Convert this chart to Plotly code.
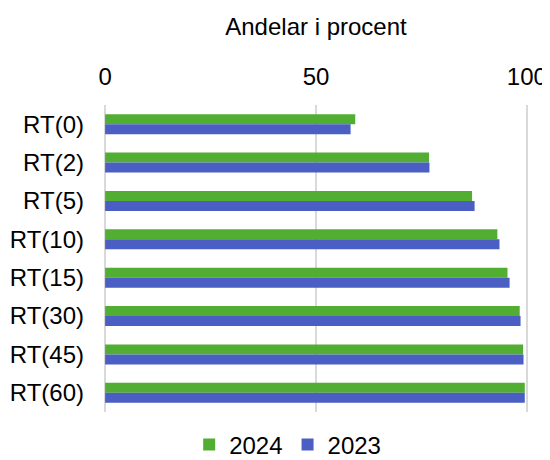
import plotly.graph_objects as go

categories = ["RT(0)", "RT(2)", "RT(5)", "RT(10)", "RT(15)", "RT(30)", "RT(45)", "RT(60)"]
values_2024 = [59.3, 76.8, 87.0, 93.0, 95.4, 98.3, 99.1, 99.5]
values_2023 = [58.2, 76.9, 87.6, 93.5, 95.9, 98.5, 99.2, 99.5]

GREEN = "#52AE32"
BLUE = "#4A5EC3"

fig = go.Figure()
fig.add_trace(go.Bar(name="2024", y=categories, x=values_2024, orientation="h",
                     marker=dict(color=GREEN, line=dict(width=0))))
fig.add_trace(go.Bar(name="2023", y=categories, x=values_2023, orientation="h",
                     marker=dict(color=BLUE, line=dict(width=0))))

fig.update_layout(
    width=550, height=460,
    barmode="group", bargap=0.48, bargroupgap=0,
    plot_bgcolor="white", paper_bgcolor="white",
    font=dict(family="Liberation Sans, Arial, sans-serif", size=24, color="#000000"),
    margin=dict(l=95, r=29, t=97, b=56, autoexpand=False),
    xaxis=dict(side="top", range=[-0.5, 100.5], tickvals=[0, 50, 100], showgrid=True,
               gridcolor="#D9D9D9", gridwidth=2, zeroline=False, showline=False,
               ticks="", ticklabelstandoff=14,
               title=dict(text="Andelar i procent", font=dict(size=24), standoff=20),
               tickfont=dict(size=24)),
    yaxis=dict(autorange="reversed", showgrid=False, showline=False, zeroline=False,
               ticks="", tickfont=dict(size=24), ticklabelstandoff=18),
    legend=dict(orientation="h", x=0.4335, xanchor="center",
                yref="container", y=0.05, yanchor="middle",
                font=dict(size=24), itemwidth=30, tracegroupgap=0),
    showlegend=True,
)

fig.write_html("out.html")
